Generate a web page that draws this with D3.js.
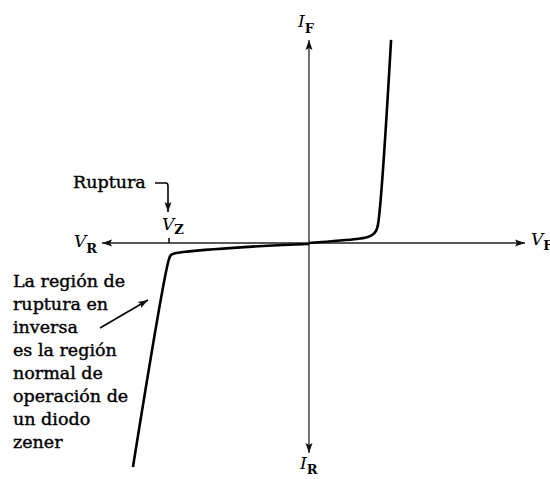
<!DOCTYPE html>
<html>
<head>
<meta charset="utf-8">
<script src="https://cdn.jsdelivr.net/npm/d3@7"></script>
<style>
  body { margin: 0; background: #fff; }
  svg { display: block; }
  text { font-family: "DejaVu Serif", "Liberation Serif", serif; fill: #000; }
</style>
</head>
<body>
<div id="chart"></div>
<script>
// diode characteristic, normalized units (V horizontal, I vertical)
var forwardV = [0, 0.222, 0.264, 0.292, 0.310, 0.319, 0.380];
var forwardI = [0, 0.019, 0.026, 0.038, 0.057, 0.086, 0.967];
var reverseV = [0, -0.213, -0.583, -0.616, -0.639, -0.648, -0.815];
var reverseI = [-0.005, -0.014, -0.043, -0.048, -0.057, -0.076, -1.067];
var vz = -0.648;
var vExtent = [-0.958, 1];
var iExtent = [-1, 0.967];
var noteLines = ["La región de", "ruptura en", "inversa", "es la región",
                 "normal de", "operación de", "un diodo", "zener"];

var width = 550, height = 479;
var svg = d3.select('#chart').append('svg')
    .attr('width', width).attr('height', height);

var x = d3.scaleLinear().domain([-1, 1]).range([93, 525]);
var y = d3.scaleLinear().domain([-1, 1]).range([453, 33]);

var defs = svg.append('defs');
defs.append('marker')
    .attr('id', 'head')
    .attr('viewBox', '0 0 10 8')
    .attr('refX', 10).attr('refY', 4)
    .attr('markerWidth', 10).attr('markerHeight', 8)
    .attr('markerUnits', 'userSpaceOnUse')
    .attr('orient', 'auto')
  .append('path')
    .attr('d', 'M0,0.5 L10,4 L0,7.5 L2,4 Z')
    .attr('fill', '#111');

// axes
svg.append('line')
    .attr('x1', x(0)).attr('x2', x(vExtent[0]))
    .attr('y1', y(0)).attr('y2', y(0))
    .attr('stroke', '#222').attr('stroke-width', 1.5)
    .attr('marker-end', 'url(#head)');
svg.append('line')
    .attr('x1', x(0)).attr('x2', x(vExtent[1]))
    .attr('y1', y(0)).attr('y2', y(0))
    .attr('stroke', '#222').attr('stroke-width', 1.5)
    .attr('marker-end', 'url(#head)');
svg.append('line')
    .attr('x1', x(0)).attr('x2', x(0))
    .attr('y1', y(0)).attr('y2', y(iExtent[1]))
    .attr('stroke', '#444').attr('stroke-width', 1.5)
    .attr('marker-end', 'url(#head)');
svg.append('line')
    .attr('x1', x(0)).attr('x2', x(0))
    .attr('y1', y(0)).attr('y2', y(iExtent[0]))
    .attr('stroke', '#444').attr('stroke-width', 1.5)
    .attr('marker-end', 'url(#head)');

// Vz tick
svg.append('line')
    .attr('x1', x(vz)).attr('x2', x(vz))
    .attr('y1', y(0) - 5).attr('y2', y(0))
    .attr('stroke', '#000').attr('stroke-width', 1.5);

// curve
var line = d3.line()
    .x(function(d){ return x(d[0]); })
    .y(function(d){ return y(d[1]); })
    .curve(d3.curveCatmullRom.alpha(0.5));

var fwd = forwardV.map(function(v, i){ return [v, forwardI[i]]; });
var rev = reverseV.map(function(v, i){ return [v, reverseI[i]]; });

svg.append('path').datum(fwd)
    .attr('d', line).attr('fill', 'none')
    .attr('stroke', '#000').attr('stroke-width', 2.6);
svg.append('path').datum(rev)
    .attr('d', line).attr('fill', 'none')
    .attr('stroke', '#000').attr('stroke-width', 2.6);

// axis labels
function subLabel(px, py, main, sub, dy) {
    var t = svg.append('text').attr('x', px).attr('y', py);
    t.append('tspan').text(main)
        .style('font-style', 'italic').style('font-size', '17px');
    t.append('tspan').text(sub)
        .attr('dy', dy).style('font-size', '13px')
        .style('font-weight', 'bold');
}
subLabel(298, 27, 'I', 'F', 6);
subLabel(300, 469, 'I', 'R', 5);
subLabel(74, 247, 'V', 'R', 6);
subLabel(531, 245, 'V', 'F', 5);
subLabel(162, 230, 'V', 'Z', 4);

// Ruptura annotation
svg.append('text').attr('x', 73).attr('y', 188)
    .style('font-size', '17.5px')
    .attr('stroke', '#000').attr('stroke-width', 0.4)
    .text('Ruptura');
svg.append('path')
    .attr('d', 'M155,183 L166,183 Q168,183 168,186 L168,212')
    .attr('fill', 'none').attr('stroke', '#000').attr('stroke-width', 1.6)
    .attr('marker-end', 'url(#head)');

// breakdown region note
var note = svg.append('g');
note.selectAll('text').data(noteLines).enter().append('text')
    .attr('x', 13)
    .attr('y', function(d, i){ return 287 + i * 23; })
    .style('font-size', '17.5px')
    .attr('stroke', '#000').attr('stroke-width', 0.4)
    .text(function(d){ return d; });
svg.append('line')
    .attr('x1', 100).attr('y1', 328).attr('x2', 148).attr('y2', 300)
    .attr('stroke', '#000').attr('stroke-width', 1.6)
    .attr('marker-end', 'url(#head)');
</script>
</body>
</html>
